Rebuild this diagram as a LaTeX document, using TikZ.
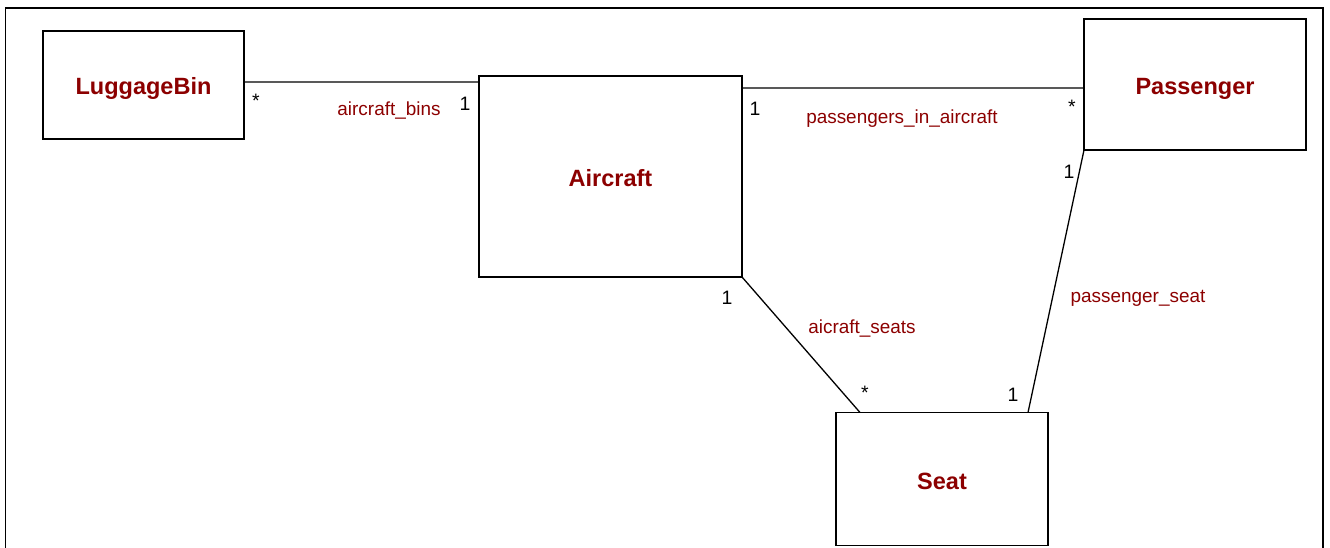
\documentclass[tikz,border=0pt]{standalone}
\usepackage{fontspec}
\setmainfont{Liberation Sans}
\definecolor{umlred}{RGB}{140,0,0}
\begin{document}
\begin{tikzpicture}[x=1bp,y=-1bp,
  classbox/.style={draw=black,line width=1.3bp,fill=white,inner sep=0pt,outer sep=0pt,
    text height=20bp,text depth=0pt,
    font=\fontsize{23.6pt}{28pt}\selectfont\bfseries,text=umlred},
  assoc/.style={draw=black,line width=1.3bp},
  rolename/.style={inner sep=0pt,font=\fontsize{19pt}{22pt}\selectfont,text=umlred},
  mult/.style={inner sep=0pt,font=\fontsize{19.5pt}{22pt}\selectfont,text=black}]
\useasboundingbox (0,0) rectangle (1330,548);
% outer frame (runs past the lower edge)
\begin{scope}
\clip (0,0) rectangle (1330,548);
\draw[line width=1.3bp] (5.5,8) rectangle (1323,570);
\end{scope}
% classes
\node[classbox,minimum width=201bp,minimum height=108bp] (lb) at (143.5,85) {LuggageBin};
\node[classbox,minimum width=263bp,minimum height=201bp] (ac) at (610.5,176.5) {Aircraft};
\node[classbox,minimum width=222bp,minimum height=131bp] (pa) at (1195,84.5) {Passenger};
\node[classbox,minimum width=212bp,minimum height=133bp] (se) at (942,479) {Seat};
% associations
\draw[assoc] ([yshift=3bp]lb.east) -- ([yshift=-6bp]ac.north west);
\draw[assoc] ([yshift=-12bp]ac.north east) -- ([yshift=-3.5bp]pa.west);
\draw[assoc] (ac.south east) -- ([xshift=24bp]se.north west);
\draw[assoc] (pa.south west) -- ([xshift=-20bp]se.north east);
% role names
\node[rolename] (r1) at (389,111) {aircraft\_bins};
\node[rolename] (r2) at (902,119) {passengers\_in\_aircraft};
\node[rolename] (r3) at (1138,298.5) {passenger\_seat};
\node[rolename] (r4) at (862,329) {aicraft\_seats};
% multiplicities
\node[mult] (m1) at (256,101) {*};
\node[mult] (m2) at (465,104) {1};
\node[mult] (m3) at (755,109) {1};
\node[mult] (m4) at (1072,107) {*};
\node[mult] (m5) at (1069,172) {1};
\node[mult] (m6) at (727,298) {1};
\node[mult] (m7) at (865,393) {*};
\node[mult] (m8) at (1013,395) {1};
\end{tikzpicture}
\end{document}
